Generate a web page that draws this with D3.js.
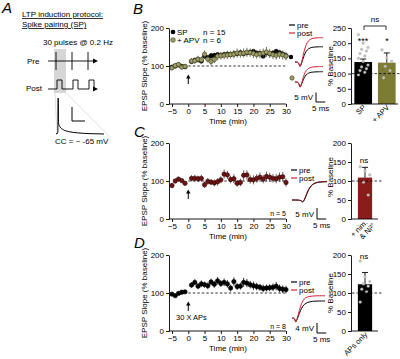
<!DOCTYPE html>
<html lang="en">
<head>
<meta charset="UTF-8" />
<title>LTP by spike pairing</title>
<script src="https://d3js.org/d3.v7.min.js"></script>
<style>
  body { margin: 0; background: #fff; }
</style>
</head>
<body>
<div id="fig"></div>
<script>
  // ---------- data ----------
  const minutes = [-5, -4, -3, -2, -1, 1, 2, 3, 4, 5, 6, 7, 8, 9, 10, 11, 12, 13, 14, 15,
    16, 17, 18, 19, 20, 21, 22, 23, 24, 25, 26, 27, 28, 29, 30];
  const xTicks = [-5, 0, 5, 10, 15, 20, 25, 30];

  // panel B: spike pairing (SP) and SP + APV
  const spSlope = [97, 100, 103, 99, 98, 112, 115, 117, 113, 126, 122, 127, 128, 130, 128, 130, 131, 130, 132, 133,
    135, 133, 135, 136, 138, 134, 133, 126, 135, 132, 134, 138, 135, 131, 127];
  const spErr = [4, 4, 5, 4, 4, 5, 5, 6, 5, 6, 5, 6, 5, 6, 5, 5, 6, 5, 6, 6,
    6, 5, 6, 6, 6, 6, 6, 5, 6, 6, 6, 7, 6, 6, 6];
  const apvSlope = [95, 101, 104, 97, 99, 113, 114, 118, 116, 131, 118, 112, 117, 126, 127, 128, 129, 130, 131, 134,
    133, 134, 136, 135, 133, 130, 132, 134, 137, 133, 130, 128, 131, 129, 126];
  const apvErr = [6, 5, 6, 6, 5, 8, 8, 9, 9, 10, 9, 10, 10, 11, 10, 10, 11, 10, 11, 12,
    11, 12, 12, 11, 12, 11, 12, 12, 13, 12, 12, 11, 12, 12, 11];

  // panel C: + nimodipine & Ni2+
  const nimSlope = [88, 100, 105, 101, 94, 107, 107, 106, 107, 90, 99, 97, 95, 98, 103, 118, 116, 104, 106, 94,
    96, 115, 116, 104, 103, 107, 110, 105, 112, 110, 107, 106, 110, 111, 96];
  const nimErr = [7, 6, 6, 5, 6, 8, 9, 8, 9, 8, 9, 8, 9, 10, 9, 12, 11, 10, 12, 9,
    10, 13, 12, 11, 12, 11, 12, 11, 13, 12, 11, 12, 12, 13, 11];

  // panel D: 30 x APs only
  const apSlope = [97, 93, 99, 102, 103, 121, 128, 118, 124, 122, 119, 129, 123, 132, 125, 128, 124, 113, 130, 117,
    118, 128, 126, 122, 119, 117, 115, 112, 113, 114, 115, 118, 112, 110, 109];
  const apErr = [4, 4, 4, 4, 4, 7, 8, 8, 9, 8, 9, 9, 9, 10, 9, 10, 10, 9, 11, 9,
    9, 12, 11, 10, 11, 10, 9, 10, 9, 9, 10, 11, 10, 10, 10];

  // bar summaries (% baseline)
  const barsB = [
    { name: "SP", mean: 138, err: 10, color: "#000", dots: [228, 200, 186, 180, 174, 166, 158, 150, 140, 128, 122, 116, 110, 104, 96] },
    { name: "+ APV", mean: 136, err: 32, color: "#7d7c33", dots: [178, 152, 140, 124, 110, 86] }
  ];
  const barsC = [{ name: "+ nim.|& Ni²⁺", mean: 109, err: 27, color: "#8a1c1c", dots: [137, 126, 116, 97, 63] }];
  const barsD = [{ name: "APs only", mean: 123, err: 31, color: "#000", dots: [184, 142, 130, 124, 118, 110, 103, 76] }];

  // EPSP example traces: time (ms) and voltage (mV)
  const traceMsB = [0, 1.5, 2.2, 2.6, 3.0, 3.6, 4.4, 5.4, 6.6, 8, 10, 12.5, 15];
  const spPre = [0, 0, -1, -2.6, -2, -0.5, 2, 4.8, 6.5, 7.5, 7.9, 8.0, 8.0];
  const spPost = [0, 0, -1, -2.6, -2, 0, 3.6, 7.8, 10.5, 12, 12.6, 12.8, 12.8];
  const apvPre = [0, 0, -1, -3, -2.4, -1, 1.2, 3.2, 4.4, 5, 5.3, 5.4, 5.4];
  const apvPost = [0, 0, -1, -3, -2.4, -0.6, 2.4, 5.2, 6.8, 7.6, 8, 8.1, 8.1];
  const traceMsC = [0, 4, 5.2, 5.6, 6, 6.6, 7.4, 8.4, 9.6, 11, 13, 15.5, 19];
  const nimPre = [0, 0, -0.4, -1, -0.8, -0.2, 1.4, 3.6, 5.6, 7, 7.9, 8.2, 8.3];
  const nimPost = [0, 0, -0.4, -1, -0.8, -0.1, 1.6, 3.8, 5.8, 7.1, 8.0, 8.3, 8.4];
  const traceMsD = [0, 1, 1.6, 2, 2.4, 3, 4, 5.2, 6.6, 8.5, 11, 14, 18];
  const apPre = [0, 0, -0.6, -1.8, -1.2, -0.2, 1.8, 4, 5.5, 6.3, 6.7, 6.8, 6.8];
  const apPost = [0, 0, -0.6, -1.8, -1.2, 0.2, 3, 6, 7.8, 8.5, 8.8, 8.9, 8.9];

  // protocol schematic (panel A)
  const pulseIdx = [0, 1, 2];
  const apMs = [0, 1.5, 2.2, 2.6, 3.2, 5, 9, 16, 26, 40, 58];
  const apMv = [-63, -63, -60, 30, -38, -46, -53, -58, -61, -63, -64];

  // ---------- drawing ----------
  const font = "'Liberation Sans', Arial, sans-serif";
  const svg = d3.select("#fig").append("svg")
    .attr("width", 400).attr("height", 359)
    .attr("font-family", font);
  svg.append("rect").attr("width", 400).attr("height", 359).attr("fill", "#fff");

  function styleAxis(g) {
    g.attr("font-family", font).attr("font-size", 8);
    g.selectAll("text").attr("fill", "#000");
    g.selectAll("line,path").attr("stroke", "#000").attr("stroke-width", 0.9);
  }

  function txt(x, y, s, size, anchor) {
    return svg.append("text").attr("x", x).attr("y", y).attr("font-size", size || 8)
      .attr("text-anchor", anchor || "start").attr("fill", "#000").text(s);
  }

  function arrowUp(x, yTip, yTail) {
    svg.append("line").attr("x1", x).attr("x2", x).attr("y1", yTip + 3).attr("y2", yTail)
      .attr("stroke", "#000").attr("stroke-width", 1);
    svg.append("path").attr("d", `M${x},${yTip} L${x - 2.2},${yTip + 4} L${x + 2.2},${yTip + 4} Z`).attr("fill", "#000");
  }

  // time course panel
  function timeCourse(top, bottom, series) {
    const x = d3.scaleLinear().domain([-5, 30]).range([172, 286]);
    const y = d3.scaleLinear().domain([0, 200]).range([bottom, top]);

    const ga = svg.append("g").attr("transform", `translate(169,0)`)
      .call(d3.axisLeft(y).tickValues([0, 100, 200]).tickSize(3).tickPadding(2).tickSizeOuter(0));
    styleAxis(ga);
    const gx = svg.append("g").attr("transform", `translate(0,${bottom})`)
      .call(d3.axisBottom(x).tickValues(xTicks).tickSize(3).tickPadding(1).tickSizeOuter(0));
    styleAxis(gx);
    gx.select(".domain").attr("d", `M169,0H${x(30)}`);

    svg.append("line").attr("x1", x(0)).attr("x2", x(30)).attr("y1", y(100)).attr("y2", y(100))
      .attr("stroke", "#000").attr("stroke-width", 0.8).attr("stroke-dasharray", "2.5,2");

    series.forEach(s => {
      const g = svg.append("g");
      g.selectAll("line").data(minutes).join("line")
        .attr("x1", d => x(d)).attr("x2", d => x(d))
        .attr("y1", (d, i) => y(s.values[i] - s.err[i])).attr("y2", (d, i) => y(s.values[i] + s.err[i]))
        .attr("stroke", s.errColor).attr("stroke-width", 0.8);
      g.selectAll("circle").data(minutes).join("circle")
        .attr("cx", d => x(d)).attr("cy", (d, i) => y(s.values[i])).attr("r", 2.2)
        .attr("fill", s.fill).attr("stroke", s.stroke).attr("stroke-width", 0.6);
    });

    txt(228, bottom + 19.5, "Time (min)", 8, "middle");
    svg.append("text").attr("transform", `translate(147,${(top + bottom) / 2}) rotate(-90)`)
      .attr("text-anchor", "middle").attr("font-size", 8).attr("fill", "#000").text("EPSP Slope (% baseline)");

    arrowUp(x(0), y(100) + 8.5, y(100) + 18);
    return { x, y };
  }

  // bar summary panel
  function barPanel(top, bottom, yMax, bars, rangeEnd, pad, labelY) {
    const y = d3.scaleLinear().domain([0, yMax]).range([bottom, top]);
    const x = d3.scaleBand().domain(bars.map(b => b.name)).range([352, rangeEnd])
      .paddingInner(0.25).paddingOuter(pad);

    svg.selectAll(null).data(bars).join("rect")
      .attr("x", d => x(d.name)).attr("width", x.bandwidth())
      .attr("y", d => y(d.mean)).attr("height", d => y(0) - y(d.mean))
      .attr("fill", d => d.color);

    bars.forEach(b => {
      const cx = x(b.name) + x.bandwidth() / 2;
      svg.append("line").attr("x1", cx).attr("x2", cx).attr("y1", y(b.mean)).attr("y2", y(b.mean + b.err))
        .attr("stroke", "#000").attr("stroke-width", 0.9);
      svg.append("line").attr("x1", cx - 3).attr("x2", cx + 3).attr("y1", y(b.mean + b.err)).attr("y2", y(b.mean + b.err))
        .attr("stroke", "#000").attr("stroke-width", 0.9);
      svg.append("g").selectAll("circle").data(b.dots).join("circle")
        .attr("cx", (d, i) => cx + ((i * 3) % 7 - 3) * 1.6)
        .attr("cy", d => y(d)).attr("r", 1.4)
        .attr("fill", "#c4c4c4").attr("stroke", "#a8a8a8").attr("stroke-width", 0.3);
      const lines = b.name.split("|");
      const t = svg.append("text").attr("transform", `translate(${cx + 3},${bottom + 4}) rotate(-45)`)
        .attr("text-anchor", "end").attr("font-size", 7.5).attr("fill", "#000");
      lines.forEach((l, i) => t.append("tspan").attr("x", i * 4).attr("dy", i ? 8 : 0).text(l));
    });

    svg.append("line").attr("x1", 352).attr("x2", rangeEnd + 4).attr("y1", y(100)).attr("y2", y(100))
      .attr("stroke", "#000").attr("stroke-width", 0.8).attr("stroke-dasharray", "2.5,2");

    const ga = svg.append("g").attr("transform", `translate(351,0)`)
      .call(d3.axisLeft(y).ticks(yMax / 50).tickSize(3).tickPadding(2).tickSizeOuter(0));
    styleAxis(ga);
    svg.append("line").attr("x1", 351).attr("x2", rangeEnd).attr("y1", bottom).attr("y2", bottom)
      .attr("stroke", "#000").attr("stroke-width", 0.9);
    svg.append("text").attr("transform", `translate(333,${labelY}) rotate(-90)`)
      .attr("text-anchor", "middle").attr("font-size", 8).attr("fill", "#000").text("% Baseline");
    return { x, y };
  }

  // example traces
  function traces(ms, pxRange, msMax, baseY, pxPerMv, pairs) {
    const x = d3.scaleLinear().domain([0, msMax]).range(pxRange);
    const y = d3.scaleLinear().domain([0, 10]).range([baseY, baseY - 10 * pxPerMv]);
    const line = d3.line().x((d, i) => x(ms[i])).y(d => y(d)).curve(d3.curveBasis);
    pairs.forEach(p => {
      svg.append("path").attr("d", line(p.v)).attr("fill", "none")
        .attr("stroke", p.c).attr("stroke-width", 1);
    });
    return { x, y };
  }

  function scaleBar(x0, y0, pxPerMs, pxPerMv, mv, labelMv) {
    const sx = d3.scaleLinear().domain([0, 5]).range([x0, x0 + 5 * pxPerMs]);
    const sy = d3.scaleLinear().domain([0, mv]).range([y0, y0 - mv * pxPerMv]);
    svg.append("path").attr("d", `M${sx(0)},${sy(mv)}V${sy(0)}H${sx(5)}`)
      .attr("fill", "none").attr("stroke", "#000").attr("stroke-width", 1);
    txt(sx(0) - 3, (sy(0) + sy(mv)) / 2 + 3, labelMv, 8, "end");
    txt(sx(2.5), y0 + 9, "5 ms", 8, "middle");
  }

  function prePostLegend(x0, y0) {
    svg.append("line").attr("x1", x0).attr("x2", x0 + 6).attr("y1", y0).attr("y2", y0).attr("stroke", "#000").attr("stroke-width", 1.2);
    txt(x0 + 8, y0 + 3, "pre");
    svg.append("line").attr("x1", x0).attr("x2", x0 + 6).attr("y1", y0 + 8).attr("y2", y0 + 8).attr("stroke", "#d62030").attr("stroke-width", 1.2);
    txt(x0 + 8, y0 + 11, "post");
  }

  // ----- panel A -----
  svg.append("text").attr("x", 2).attr("y", 13).attr("font-size", 15).attr("font-style", "italic").text("A");
  txt(22, 17, "LTP induction protocol:").attr("text-decoration", "underline");
  txt(22, 27, "Spike pairing (SP)").attr("text-decoration", "underline");
  txt(43, 45, "30 pulses @ 0.2 Hz");

  const px = d3.scaleLinear().domain([0, 2]).range([56, 88]);
  svg.append("rect").attr("x", 54).attr("y", 49).attr("width", 12).attr("height", 44).attr("fill", "#d6d6d6");
  svg.append("line").attr("x1", 55).attr("y1", 93).attr("x2", 57).attr("y2", 135).attr("stroke", "#e0e0e0").attr("stroke-width", 1);
  svg.append("line").attr("x1", 66).attr("y1", 93).attr("x2", 109).attr("y2", 136).attr("stroke", "#e0e0e0").attr("stroke-width", 1);

  txt(27, 64, "Pre");
  svg.append("line").attr("x1", 48).attr("x2", 95).attr("y1", 61).attr("y2", 61).attr("stroke", "#000").attr("stroke-width", 0.9);
  svg.append("path").attr("d", "M98,61 L93,58.5 L93,63.5 Z").attr("fill", "#000");
  svg.selectAll(null).data(pulseIdx).join("line")
    .attr("x1", d => px(d)).attr("x2", d => px(d)).attr("y1", 52).attr("y2", 70)
    .attr("stroke", "#000").attr("stroke-width", 0.9);

  txt(26, 91, "Post");
  const postPath = d3.path();
  postPath.moveTo(48, 89);
  pulseIdx.forEach(d => {
    const x0 = px(d) + 1;
    postPath.lineTo(x0, 89); postPath.lineTo(x0, 80); postPath.lineTo(x0 + 5, 80); postPath.lineTo(x0 + 5, 89);
  });
  postPath.lineTo(95, 89);
  svg.append("path").attr("d", postPath.toString()).attr("fill", "none").attr("stroke", "#000").attr("stroke-width", 0.9);
  svg.append("path").attr("d", "M98,89 L93,86.5 L93,91.5 Z").attr("fill", "#000");

  const apX = d3.scaleLinear().domain([0, 58]).range([56, 104]);
  const apY = d3.scaleLinear().domain([-64, 30]).range([134, 98]);
  svg.append("path")
    .attr("d", d3.line().x((d, i) => apX(apMs[i])).y(d => apY(d)).curve(d3.curveMonotoneX)(apMv))
    .attr("fill", "none").attr("stroke", "#000").attr("stroke-width", 1);
  svg.append("path").attr("d", "M72,107V121H85").attr("fill", "none").attr("stroke", "#000").attr("stroke-width", 1);
  txt(55, 144, "CC = ~ -65 mV");

  // ----- panel B -----
  svg.append("text").attr("x", 133).attr("y", 14).attr("font-size", 15).attr("font-style", "italic").text("B");
  timeCourse(28, 104, [
    { values: spSlope, err: spErr, fill: "#000", stroke: "#000", errColor: "#000" },
    { values: apvSlope, err: apvErr, fill: "#9c9c66", stroke: "#3d3d1f", errColor: "#4f4f2a" }
  ]);
  svg.append("circle").attr("cx", 173).attr("cy", 32).attr("r", 2.3).attr("fill", "#000");
  txt(177, 35, "SP");
  svg.append("circle").attr("cx", 173).attr("cy", 40).attr("r", 2.3).attr("fill", "#9c9c66").attr("stroke", "#3d3d1f").attr("stroke-width", 0.6);
  txt(177, 43, "+ APV");
  txt(203, 35, "n = 15");
  txt(203, 43, "n = 6");

  prePostLegend(289, 25);
  traces(traceMsB, [295, 323], 15, 62, 1.9, [{ v: spPre, c: "#000" }, { v: spPost, c: "#d62030" }]);
  traces(traceMsB, [295, 323], 15, 82, 1.9, [{ v: apvPre, c: "#000" }, { v: apvPost, c: "#d62030" }]);
  svg.append("circle").attr("cx", 291).attr("cy", 57).attr("r", 2.2).attr("fill", "#000");
  svg.append("circle").attr("cx", 292).attr("cy", 78).attr("r", 2.2).attr("fill", "#9c9c66").attr("stroke", "#3d3d1f").attr("stroke-width", 0.6);
  scaleBar(316, 102, 1.85, 1.9, 5, "5 mV");

  barPanel(28, 104, 250, barsB, 398, 0.1, 66);
  svg.append("path").attr("d", "M364,30V26H386V30").attr("fill", "none").attr("stroke", "#000").attr("stroke-width", 0.8);
  txt(375, 22, "ns", 8, "middle");
  txt(363, 44, "***", 9, "middle");
  txt(387, 44, "*", 9, "middle");

  // ----- panel C -----
  svg.append("text").attr("x", 134).attr("y", 137).attr("font-size", 15).attr("font-style", "italic").text("C");
  timeCourse(143, 219, [
    { values: nimSlope, err: nimErr, fill: "#6e1212", stroke: "#2e0606", errColor: "#4a3030" }
  ]);
  txt(286, 216, "n = 5", 7, "end");
  prePostLegend(291, 170);
  traces(traceMsC, [292, 327], 19, 200, 2.2, [{ v: nimPre, c: "#000" }, { v: nimPost, c: "#7a1010" }]);
  scaleBar(317, 219, 1.85, 2.2, 5, "5 mV");
  barPanel(143, 219, 200, barsC, 378, 0.31, 177);
  txt(364, 163, "ns", 8, "middle");

  // ----- panel D -----
  svg.append("text").attr("x", 134).attr("y", 248).attr("font-size", 15).attr("font-style", "italic").text("D");
  timeCourse(255, 331, [
    { values: apSlope, err: apErr, fill: "#000", stroke: "#000", errColor: "#000" }
  ]);
  txt(176, 320, "30 X APs", 7.5);
  txt(286, 329, "n = 8", 7, "end");
  prePostLegend(291, 282);
  traces(traceMsD, [292, 325], 18, 318, 2.5, [{ v: apPre, c: "#000" }, { v: apPost, c: "#d62030" }]);
  scaleBar(317, 333, 1.85, 2.5, 4, "4 mV");
  barPanel(255, 331, 200, barsD, 378, 0.31, 293);
  txt(364, 259, "ns", 8, "middle");
</script>
</body>
</html>
